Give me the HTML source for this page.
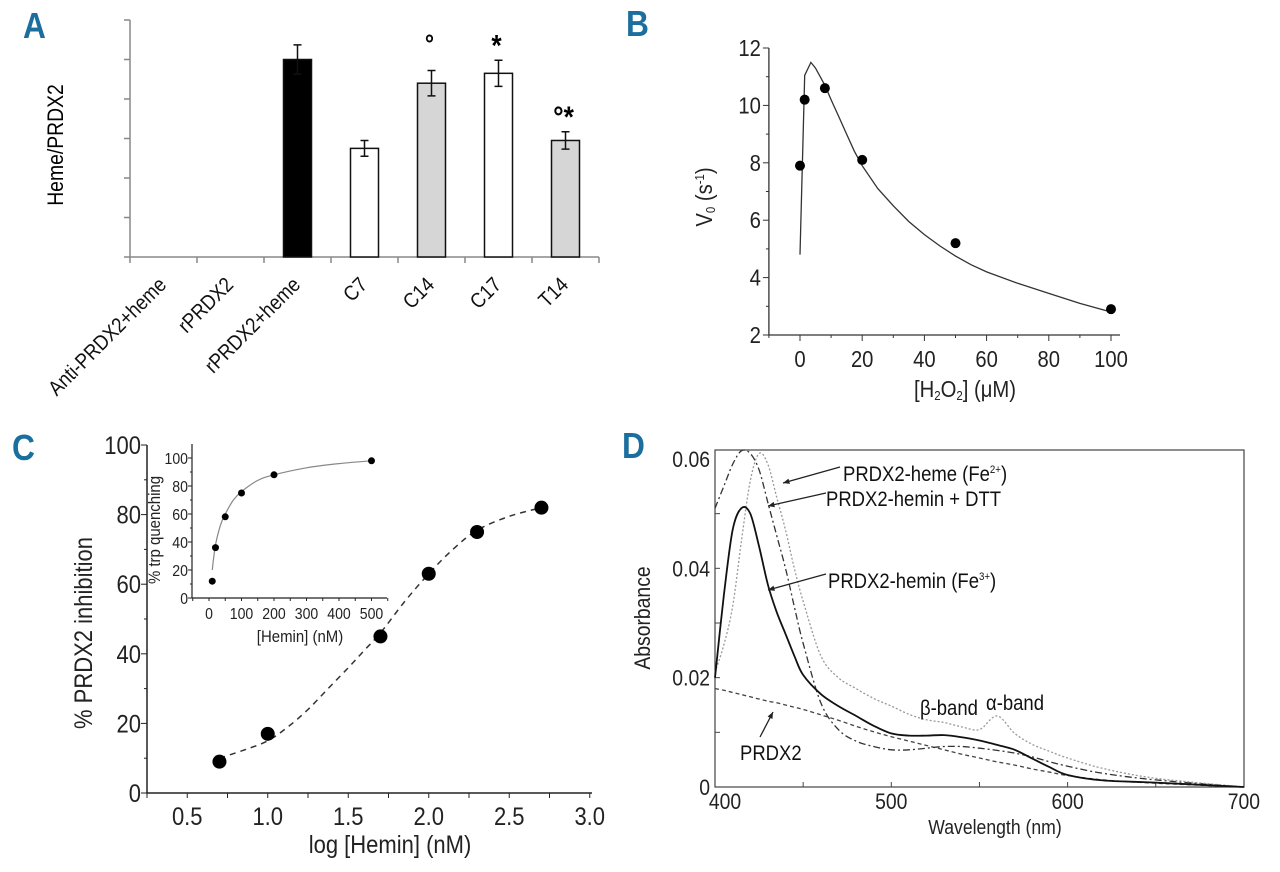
<!DOCTYPE html>
<html><head><meta charset="utf-8"><style>
body{margin:0;background:#fff}
svg{display:block;font-family:"Liberation Sans Narrow","Liberation Sans",sans-serif}
.lbl{font-family:"Liberation Sans","Liberation Sans Narrow",sans-serif;font-weight:bold;fill:#1b6f9e}
</style></head><body>
<svg id="fig" width="1280" height="872" viewBox="0 0 1280 872">
<text class="lbl" x="23" y="38" font-size="36">A</text>
<text class="lbl" x="626" y="36" font-size="36">B</text>
<text class="lbl" x="12" y="460" font-size="36">C</text>
<text class="lbl" x="622" y="458" font-size="36">D</text>
<g id="pa"></g>
<g id="pb"></g>
<g id="pc"></g>
<g id="pd"></g>
</svg>
<script>
// ---- Panel A data
const A_categories = ["Anti-PRDX2+heme","rPRDX2","rPRDX2+heme","C7","C14","C17","T14"];
const A_values = [0,0,5.0,2.75,4.4,4.65,2.95];
const A_errors = [0,0,0.37,0.2,0.32,0.33,0.22];
const A_marks = ["","","","","°","*","°*"];
// ---- Panel B data
const B_x = [0,1.5,8,20,50,100];
const B_y = [7.9,10.2,10.6,8.1,5.2,2.9];
const B_fitX = [0,1.5,3.5,5,8,10,12.5,15,17.5,20,25,30,35,40,45,50,55,60,70,80,90,100];
const B_fitY = [4.8,11.05,11.5,11.3,10.7,10.2,9.6,9.0,8.4,7.9,7.1,6.5,5.95,5.5,5.1,4.75,4.45,4.2,3.8,3.45,3.1,2.8];
const B_yTicks = [2,4,6,8,10,12];
const B_xTicks = [0,20,40,60,80,100];
// ---- Panel C data
const C_x = [0.7,1.0,1.7,2.0,2.3,2.7];
const C_y = [9,17,45,63,75,82];
const C_fitX = [0.7,0.85,1.0,1.125,1.25,1.375,1.5,1.6,1.7,1.85,2.0,2.15,2.3,2.5,2.7];
const C_fitY = [10,12.3,15,19,24,30,36,41,46,55,63,70,75.5,79.5,82];
const C_yTicks = [0,20,40,60,80,100];
const C_xTicks = [0.5,1.0,1.5,2.0,2.5,3.0];
const I_x = [10,20,50,100,200,500];
const I_y = [12,36,58,75,88,98];
const I_fitX = [10,15,20,30,40,50,75,100,150,200,300,400,500];
const I_fitY = [20,30,38,48,55,60,70,76,84,88,93,96,98];
const I_yTicks = [0,20,40,60,80,100];
const I_xTicks = [0,100,200,300,400,500];
// ---- Panel D data
const D_nm = [400,405,410,415,420,425,430,435,440,445,450,460,470,480,490,500,510,520,530,540,550,560,570,580,590,600,620,650,700];
const D_hemin = [0.020,0.035,0.047,0.051,0.050,0.044,0.037,0.032,0.028,0.024,0.0205,0.017,0.0148,0.013,0.0112,0.0098,0.0094,0.0094,0.0095,0.0091,0.0085,0.0077,0.0068,0.0052,0.0036,0.0022,0.0012,0.0008,0];
const D_heme = [0.021,0.026,0.033,0.045,0.056,0.061,0.059,0.053,0.047,0.040,0.034,0.024,0.020,0.018,0.0162,0.0148,0.0133,0.0123,0.0118,0.011,0.0105,0.013,0.0098,0.0078,0.0065,0.0053,0.0034,0.0016,0];
const D_dtt = [0.051,0.055,0.059,0.0615,0.061,0.058,0.052,0.046,0.040,0.033,0.0263,0.0154,0.0105,0.0084,0.0074,0.0068,0.0068,0.0071,0.0074,0.0074,0.0071,0.0067,0.0062,0.0055,0.0046,0.0038,0.0025,0.0013,0];
const D_prdx2 = [0.018,0.0177,0.0173,0.0169,0.0165,0.0161,0.0157,0.0154,0.015,0.0146,0.0142,0.0132,0.0122,0.0111,0.0101,0.0092,0.0084,0.0076,0.0068,0.006,0.0053,0.0046,0.004,0.0033,0.0027,0.0021,0.0013,0.0007,0];
const D_yTicks = [0,0.02,0.04,0.06];
const D_xTicks = [400,500,600,700];

const NS="http://www.w3.org/2000/svg";
function mk(parent,tag,attrs,text){const e=document.createElementNS(NS,tag);for(const k in attrs)e.setAttribute(k,attrs[k]);if(text!==undefined)e.textContent=text;parent.appendChild(e);return e;}
function smooth(xs,ys,fx,fy){const P=xs.map((v,i)=>[fx(v),fy(ys[i])]);let d="M"+P[0][0].toFixed(1)+","+P[0][1].toFixed(1);
for(let i=0;i<P.length-1;i++){const p0=P[Math.max(0,i-1)],p1=P[i],p2=P[i+1],p3=P[Math.min(P.length-1,i+2)];
const c1=[p1[0]+(p2[0]-p0[0])/6,p1[1]+(p2[1]-p0[1])/6],c2=[p2[0]-(p3[0]-p1[0])/6,p2[1]-(p3[1]-p1[1])/6];
d+=`C${c1[0].toFixed(1)},${c1[1].toFixed(1)} ${c2[0].toFixed(1)},${c2[1].toFixed(1)} ${p2[0].toFixed(1)},${p2[1].toFixed(1)}`;}return d;}
function pathOf(xs,ys,fx,fy){return xs.map((v,i)=>(i?"L":"M")+fx(v).toFixed(1)+","+fy(ys[i]).toFixed(1)).join("");}

// ===== Panel A
(function(){
const g=document.getElementById('pa');
const yA=v=>257-v*39.5, xL=i=>130+67*i, xC=i=>130+67*i+33.5;
let ax=mk(g,'path',{d:"M130,20V257H599",fill:"none",stroke:"#888","stroke-width":1.5});


for(let t=0;t<=6;t++){let tk=mk(g,'line',{x1:124,x2:130,y1:yA(t),y2:yA(t),stroke:"#888","stroke-width":1.5});

}
for(let i=0;i<=7;i++){let tk=mk(g,'line',{x1:xL(i),x2:xL(i),y1:257,y2:263,stroke:"#888","stroke-width":1.5});

}
const fills=["#fff","#fff","#000","#fff","#d6d6d6","#fff","#d6d6d6"];
A_categories.forEach((c,i)=>{
 if(A_values[i]>0){
  let b=mk(g,'rect',{x:xC(i)-14,y:yA(A_values[i]),width:28,height:257-yA(A_values[i]),fill:fills[i],stroke:"#111","stroke-width":1.5});
  
  
  const hi=yA(A_values[i]+A_errors[i]), lo=yA(A_values[i]-A_errors[i]);
  let e=mk(g,'path',{d:`M${xC(i)},${hi}V${lo}M${xC(i)-4},${hi}H${xC(i)+4}M${xC(i)-4},${lo}H${xC(i)+4}`,stroke:"#111","stroke-width":1.5,fill:"none"});
  
  
  if(A_marks[i]){let m=mk(g,'text',{x:xC(i)-2,y:hi-(A_marks[i]==="°"?18:5),"text-anchor":"middle","font-size":A_marks[i]==="°"?26:30,"font-weight":"bold"},A_marks[i]);
  
  }
 }
 let t=mk(g,'text',{x:xC(i)+4,y:286,"text-anchor":"end","font-size":21,fill:"#111",transform:`rotate(-45 ${xC(i)+4} 286)`},c);
 
 
});
let yt=mk(g,'text',{x:63,y:145,"text-anchor":"middle","font-size":22,transform:"rotate(-90 63 145)"},"Heme/PRDX2");


})();

// ===== Panel B
(function(){
const g=document.getElementById('pb');
const xB=v=>800+v*3.11, yB=v=>335-(v-2)*28.7;
let ax=mk(g,'path',{d:`M${xB(-10)},48V335H1120`,fill:"none",stroke:"#333","stroke-width":1.3});


for(let v=2;v<=12;v++){let tk=mk(g,'line',{x1:xB(-10)-(v%2?3:6),x2:xB(-10),y1:yB(v),y2:yB(v),stroke:"#333"});

}
for(let v=-10;v<=100;v+=10){let tk=mk(g,'line',{x1:xB(v),x2:xB(v),y1:335,y2:335+(v%20?3:6),stroke:"#333"});

}
B_yTicks.forEach(v=>{let t=mk(g,'text',{x:xB(-10)-8,y:yB(v)+8,"text-anchor":"end","font-size":23,fill:"#222"},v);

});
B_xTicks.forEach(v=>{let t=mk(g,'text',{x:xB(v),y:367,"text-anchor":"middle","font-size":23,fill:"#222"},v);

});
let fit=mk(g,'path',{d:pathOf(B_fitX,B_fitY,xB,yB),fill:"none",stroke:"#333","stroke-width":1.3});


B_x.forEach((v,i)=>{let c=mk(g,'circle',{cx:xB(v),cy:yB(B_y[i]),r:5,fill:"#000"});

});
let xt=mk(g,'text',{x:965,y:397,"text-anchor":"middle","font-size":23,fill:"#222"});


xt.innerHTML='[H<tspan font-size="13" dy="3">2</tspan><tspan dy="-3">O</tspan><tspan font-size="13" dy="3">2</tspan><tspan dy="-3">] (μM)</tspan>';
let ytl=mk(g,'text',{x:712,y:197,"text-anchor":"middle","font-size":23,fill:"#222",transform:"rotate(-90 712 197)"});


ytl.innerHTML='V<tspan font-size="13" dy="3">0</tspan><tspan dy="-3"> (s</tspan><tspan font-size="13" dy="-8">-1</tspan><tspan dy="8">)</tspan>';
})();

// ===== Panel C
(function(){
const g=document.getElementById('pc');
const xC=v=>147+(v-0.25)*161, yC=v=>793-v*3.48;
let ax=mk(g,'path',{d:"M147,445V793H592",fill:"none",stroke:"#222","stroke-width":1.5});


for(let v=0;v<=100;v+=10){let tk=mk(g,'line',{x1:147-(v%20?3:6),x2:147,y1:yC(v),y2:yC(v),stroke:"#222"});

}
for(let v=0.25;v<=3.01;v+=0.25){let tk=mk(g,'line',{x1:xC(v),x2:xC(v),y1:793,y2:798,stroke:"#222"});

}
C_yTicks.forEach(v=>{let t=mk(g,'text',{x:141,y:yC(v)+9,"text-anchor":"end","font-size":25,fill:"#222"},v);

});
C_xTicks.forEach(v=>{let t=mk(g,'text',{x:xC(v),y:825,"text-anchor":"middle","font-size":25,fill:"#222"},v.toFixed(1));

});
let fit=mk(g,'path',{d:smooth(C_fitX,C_fitY,xC,yC),fill:"none",stroke:"#333","stroke-width":1.5,"stroke-dasharray":"6,5"});


C_x.forEach((v,i)=>{let c=mk(g,'circle',{cx:xC(v),cy:yC(C_y[i]),r:7,fill:"#000"});

});
let xt=mk(g,'text',{x:390,y:853,"text-anchor":"middle","font-size":25,fill:"#222"},"log [Hemin] (nM)");


let yt=mk(g,'text',{x:92,y:633,"text-anchor":"middle","font-size":25,fill:"#222",transform:"rotate(-90 92 633)"},"% PRDX2 inhibition");


// inset
const xI=v=>209+v*0.325, yI=v=>598-v*1.4;
let iax=mk(g,'path',{d:"M192,444V598H387",fill:"none",stroke:"#222","stroke-width":1.2});


for(let v=0;v<=100;v+=10){let tk=mk(g,'line',{x1:192-(v%20?2:4),x2:192,y1:yI(v),y2:yI(v),stroke:"#222"});

}
for(let v=-50;v<=550;v+=50){let tk=mk(g,'line',{x1:xI(v),x2:xI(v),y1:598,y2:601,stroke:"#222"});

}
I_yTicks.forEach(v=>{let t=mk(g,'text',{x:188,y:yI(v)+6,"text-anchor":"end","font-size":16,fill:"#222"},v);

});
I_xTicks.forEach(v=>{let t=mk(g,'text',{x:xI(v),y:619,"text-anchor":"middle","font-size":16,fill:"#222"},v);

});
let ifit=mk(g,'path',{d:smooth(I_fitX,I_fitY,xI,yI),fill:"none",stroke:"#888","stroke-width":1.2});


I_x.forEach((v,i)=>{let c=mk(g,'circle',{cx:xI(v),cy:yI(I_y[i]),r:3.5,fill:"#000"});

});
let ixt=mk(g,'text',{x:300,y:642,"text-anchor":"middle","font-size":17,fill:"#222"},"[Hemin] (nM)");


let iyt=mk(g,'text',{x:160,y:530,"text-anchor":"middle","font-size":17,fill:"#222",transform:"rotate(-90 160 530)"},"% trp quenching");


})();

// ===== Panel D
(function(){
const g=document.getElementById('pd');
const xD=v=>715+(v-400)*1.763, yD=v=>787-v*5467;
let fr=mk(g,'rect',{x:715,y:450,width:529,height:337,fill:"none",stroke:"#444","stroke-width":1.2});


for(let v=0.01;v<0.06;v+=0.01){let tk=mk(g,'line',{x1:715,x2:720,y1:yD(v),y2:yD(v),stroke:"#444"});

}
for(let v=450;v<700;v+=50){let tk=mk(g,'line',{x1:xD(v),x2:xD(v),y1:787,y2:782,stroke:"#444"});

}
D_yTicks.forEach(v=>{let t=mk(g,'text',{x:710,y:yD(v)+8,"text-anchor":"end","font-size":22,fill:"#222"},v===0?"0":v.toFixed(2));

});
D_xTicks.forEach(v=>{let t=mk(g,'text',{x:xD(v)+(v===400?10:0),y:809,"text-anchor":"middle","font-size":22,fill:"#222"},v);

});
const series=[[D_prdx2,"#444","4,3",1.3,"prdx2"],[D_dtt,"#333","7,3,2,3",1.3,"prdx2-hemin-dtt"],[D_heme,"#999","2,2",1.3,"prdx2-heme"],[D_hemin,"#111","",1.8,"prdx2-hemin"]];
series.forEach(s=>{let p=mk(g,'path',{d:smooth(D_nm,s[0],xD,yD),fill:"none",stroke:s[1],"stroke-dasharray":s[2],"stroke-width":s[3]});

});
const arrows=[[840,467,783,483],[826,493,768,506],[826,574,768,590],[760,737,773,712]];
arrows.forEach(a=>{let l=mk(g,'line',{x1:a[0],y1:a[1],x2:a[2],y2:a[3],stroke:"#222","stroke-width":1.3});


const ang=Math.atan2(a[3]-a[1],a[2]-a[0]);const h=7;
let hd=mk(g,'path',{d:`M${a[2]},${a[3]}L${a[2]-h*Math.cos(ang-0.4)},${a[3]-h*Math.sin(ang-0.4)}L${a[2]-h*Math.cos(ang+0.4)},${a[3]-h*Math.sin(ang+0.4)}Z`,fill:"#222"});

});
let t1=mk(g,'text',{x:843,y:481,"font-size":21,fill:"#111"});


t1.innerHTML='PRDX2-heme (Fe<tspan font-size="11" dy="-8">2+</tspan><tspan dy="8">)</tspan>';
let t2=mk(g,'text',{x:826,y:506,"font-size":21,fill:"#111"},"PRDX2-hemin + DTT");


let t3=mk(g,'text',{x:828,y:588,"font-size":21,fill:"#111"});


t3.innerHTML='PRDX2-hemin (Fe<tspan font-size="11" dy="-8">3+</tspan><tspan dy="8">)</tspan>';
let t4=mk(g,'text',{x:740,y:760,"font-size":21,fill:"#111"},"PRDX2");


let t5=mk(g,'text',{x:920,y:715,"font-size":21,fill:"#111"},"β-band");


let t6=mk(g,'text',{x:986,y:710,"font-size":21,fill:"#111"},"α-band");


let xt=mk(g,'text',{x:995,y:834,"text-anchor":"middle","font-size":20,fill:"#222"},"Wavelength (nm)");


let yt=mk(g,'text',{x:650,y:618,"text-anchor":"middle","font-size":22,fill:"#222",transform:"rotate(-90 650 618)"},"Absorbance");


})();

// condense all text to mimic narrow font
document.querySelectorAll('#fig text').forEach(t=>{
  try{const L=t.getComputedTextLength();if(L>0){t.setAttribute('textLength',(L*0.88).toFixed(1));t.setAttribute('lengthAdjust','spacingAndGlyphs');}}catch(e){}
});
</script>
</body></html>
